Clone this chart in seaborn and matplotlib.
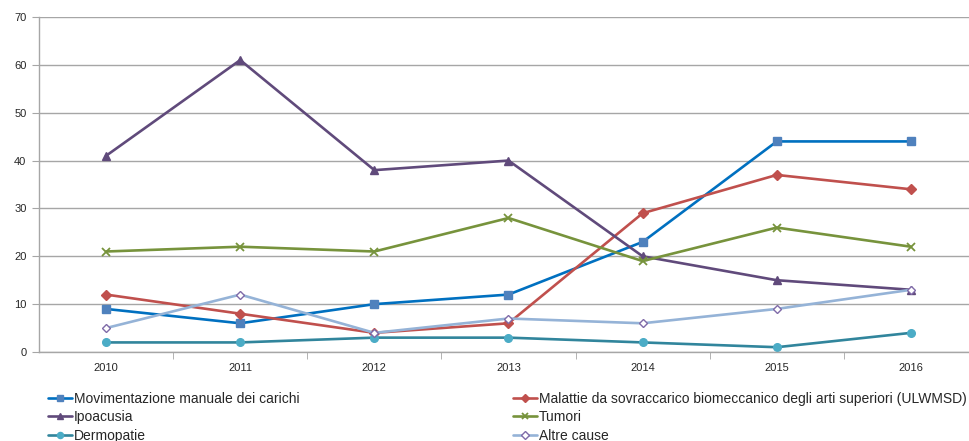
import matplotlib
matplotlib.use("Agg")
import matplotlib.pyplot as plt
import seaborn as sns
import pandas as pd
import numpy as np

years = ["2010", "2011", "2012", "2013", "2014", "2015", "2016"]
movimentazione = [9, 6, 10, 12, 23, 44, 44]
malattie = [12, 8, 4, 6, 29, 37, 34]
ipoacusia = [41, 61, 38, 40, 20, 15, 13]
tumori = [21, 22, 21, 28, 19, 26, 22]
dermopatie = [2, 2, 3, 3, 2, 1, 4]
altre = [5, 12, 4, 7, 6, 9, 13]

series_names = [
    "Movimentazione manuale dei carichi",
    "Malattie da sovraccarico biomeccanico degli arti superiori (ULWMSD)",
    "Ipoacusia",
    "Tumori",
    "Dermopatie",
    "Altre cause",
]
series_values = [movimentazione, malattie, ipoacusia, tumori, dermopatie, altre]

# line colour, marker, marker face, marker edge, marker size
styles = {
    series_names[0]: ("#0070C0", "s", "#4F81BD", "#4F81BD", 5.5),
    series_names[1]: ("#C0504D", "D", "#C0504D", "#C0504D", 5),
    series_names[2]: ("#604A7B", "^", "#604A7B", "#604A7B", 5.5),
    series_names[3]: ("#77933C", "x", "#77933C", "#77933C", 5.5),
    series_names[4]: ("#31859C", "o", "#4BACC6", "#4BACC6", 5.5),
    series_names[5]: ("#95B3D7", "D", "white", "#7F6AA8", 4.5),
}

rows = []
for name, vals in zip(series_names, series_values):
    for i, v in enumerate(vals):
        rows.append({"pos": i, "valore": v, "serie": name})
df = pd.DataFrame(rows)

sns.set_style("white")
plt.rcParams["font.family"] = ["Liberation Sans", "DejaVu Sans"]

fig = plt.figure(figsize=(9.7, 4.41), dpi=100)
ax = fig.add_axes([39 / 970, 89 / 441, 939 / 970, 335 / 441])

handles = {}
for name in series_names:
    col, mk, fc, ec, ms = styles[name]
    sub = df[df["serie"] == name]
    sns.lineplot(data=sub, x="pos", y="valore", ax=ax, color=col, lw=1.9,
                 marker=mk, markersize=ms, markerfacecolor=fc,
                 markeredgecolor=ec, markeredgewidth=1.0 if mk != "x" else 1.3,
                 legend=False)
    handles[name] = ax.lines[-1]

ax.set_xlim(-0.5, 6.5)
ax.set_ylim(0, 70)
ax.set_yticks(np.arange(0, 71, 10))
ax.set_xticks(range(len(years)))
ax.set_xticklabels(years)
ax.set_xticks(np.arange(0.5, 6.5, 1), minor=True)
ax.set_xlabel("")
ax.set_ylabel("")

ax.yaxis.grid(True, color="#A6A6A6", lw=1.0)
ax.set_axisbelow(True)
for s in ["top", "right"]:
    ax.spines[s].set_visible(False)
for s in ["left", "bottom"]:
    ax.spines[s].set_color("#A6A6A6")
    ax.spines[s].set_linewidth(1.0)

ax.tick_params(axis="y", which="major", length=5, color="#A6A6A6",
               labelsize=8, pad=4, left=True)
ax.tick_params(axis="x", which="major", length=0, labelsize=8, pad=8)
ax.tick_params(axis="x", which="minor", length=5, color="#A6A6A6", bottom=True)

left_names = [series_names[0], series_names[2], series_names[4]]
right_names = [series_names[1], series_names[3], series_names[5]]
for names, xpos in [(left_names, 48 / 970), (right_names, 513 / 970)]:
    fig.legend([handles[n] for n in names], names, loc="upper left",
               bbox_to_anchor=(xpos, 49 / 441), frameon=False, fontsize=10,
               handlelength=1.75, handletextpad=0.1, labelspacing=0.31,
               markerscale=0.8, borderpad=0, borderaxespad=0)

fig.savefig("out.png", dpi=100)
